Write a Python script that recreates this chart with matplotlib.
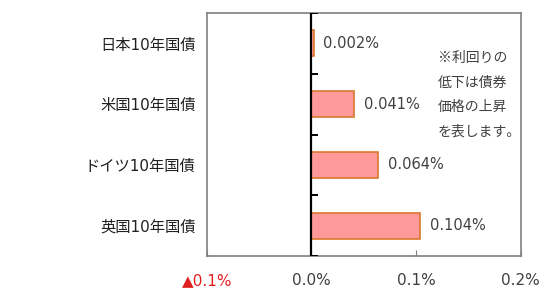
import matplotlib

matplotlib.use("Agg")
import matplotlib.pyplot as plt

plt.rcParams["font.family"] = ["DejaVu Sans", "Noto Sans CJK JP"]

# ---- data ----
categories = ["日本10年国債", "米国10年国債", "ドイツ10年国債", "英国10年国債"]
values = [0.002, 0.041, 0.064, 0.104]
value_labels = ["0.002%", "0.041%", "0.064%", "0.104%"]
xticks = [-0.1, 0.0, 0.1, 0.2]
xtick_labels = ["▲0.1%", "0.0%", "0.1%", "0.2%"]
note = "※利回りの\n低下は債券\n価格の上昇\nを表します。"

TEXT = "#404040"
FRAME = "#7f7f7f"

fig = plt.figure(figsize=(5.5, 2.97), dpi=100)
ax = fig.add_axes([0.376, 0.138, 0.571, 0.818])

ypos = list(range(len(categories)))
ax.barh(ypos, values, height=0.43, color="#FF9999", edgecolor="#D9782E", linewidth=1.2, zorder=2)
for y, v, lab in zip(ypos, values, value_labels):
    ax.text(v + 0.009, y, lab, va="center", ha="left", fontsize=10.5, color=TEXT)

ax.set_xlim(-0.1, 0.2)
ax.set_ylim(len(categories) - 0.5, -0.5)

# zero axis with boundary ticks
ax.axvline(0, color="black", lw=1.6, zorder=3)
bounds = [i - 0.5 for i in range(len(categories) + 1)]
ax.hlines(bounds, 0, 0.006, color="black", lw=1.4, zorder=3)

ax.set_yticks(ypos, categories)
ax.tick_params(axis="y", length=0, pad=8, labelsize=11, labelcolor="#202020")
ax.set_xticks(xticks, xtick_labels)
ax.tick_params(axis="x", direction="in", length=4, color=FRAME, pad=12, labelsize=11, labelcolor=TEXT)
ax.get_xticklabels()[0].set_color("#E02020")

for s in ax.spines.values():
    s.set_color(FRAME)
    s.set_linewidth(1.2)

ax.text(0.1207, 0.13, note, ha="left", va="top", fontsize=10, color=TEXT, linespacing=1.95,
        family=["Noto Sans CJK JP", "DejaVu Sans"])

fig.savefig("out.png", dpi=100)
